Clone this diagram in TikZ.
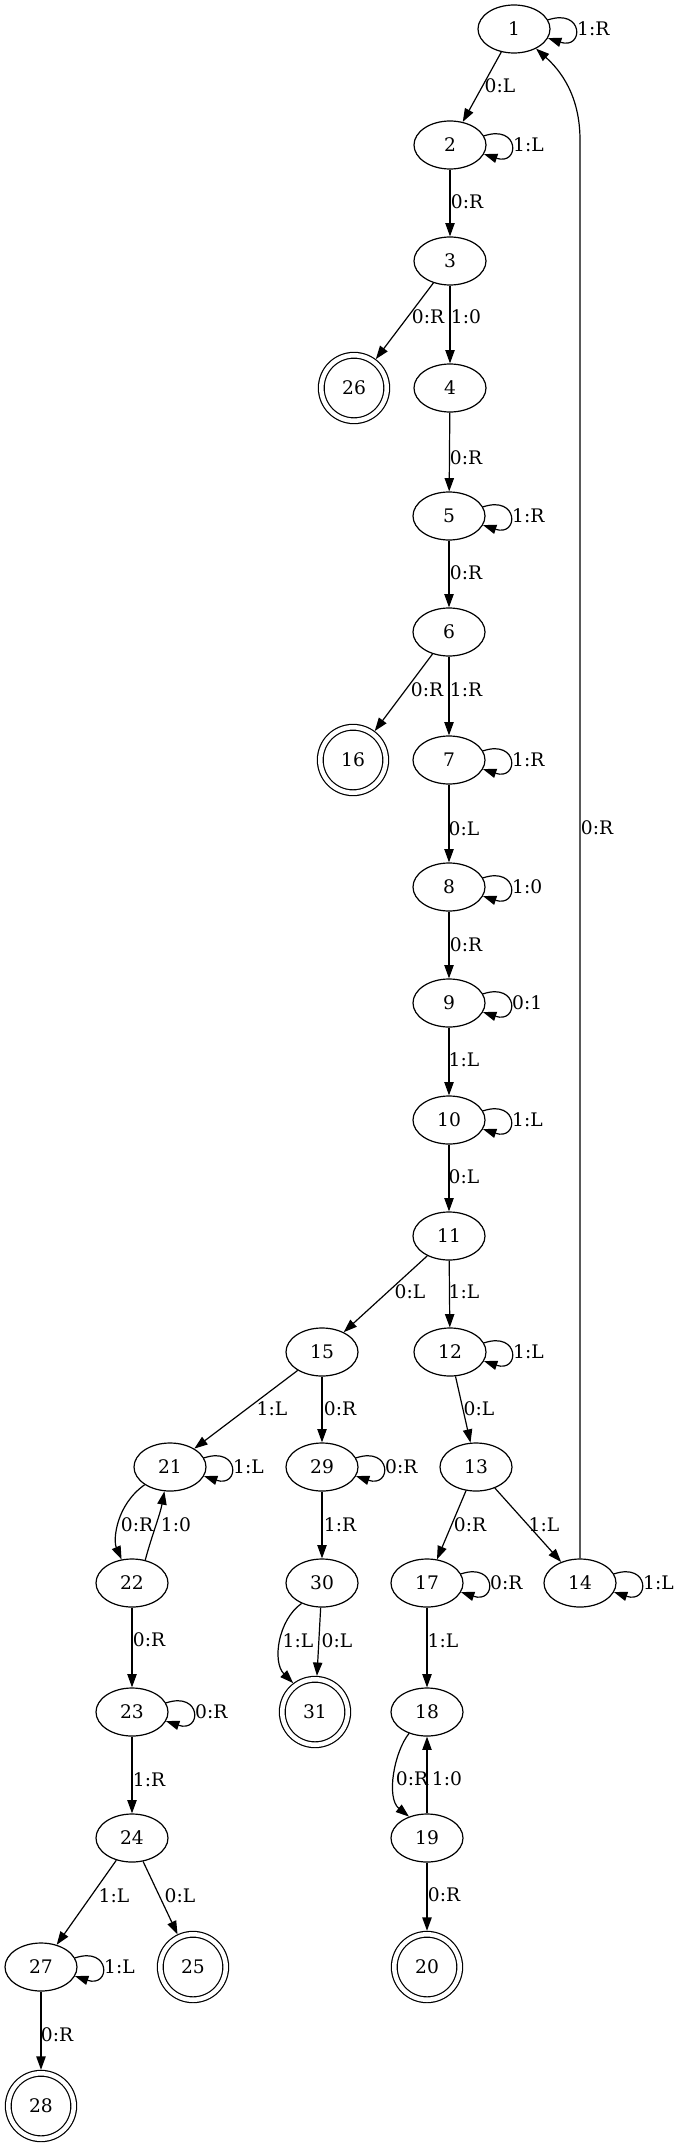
\documentclass[tikz,border=0pt]{standalone}
\usepackage{fontspec}
\setmainfont{DejaVu Serif}
\usetikzlibrary{arrows.meta,shapes.geometric}
\begin{document}
\begin{tikzpicture}[x=0.75pt, y=-0.75pt, font=\fontsize{14pt}{16pt}\selectfont,
  st/.style={ellipse, draw, line width=0.9pt, minimum width=54pt, minimum height=36pt, inner sep=0pt},
  acc/.style={circle, draw, line width=0.9pt, double, double distance=3.4pt, minimum size=49.1pt, inner sep=0pt, outer sep=2.6pt},
  conn/.style={draw, line width=0.9pt, -{Triangle[length=10pt,width=7pt]}},
  lab/.style={inner sep=0pt},
  loopl/.style={pos=0.5, anchor=west, inner sep=0pt, xshift=1.2pt}]
\useasboundingbox (0,0) rectangle (677,2147);

% states
\node[st] (n1) at (514,29) {1};
\node[st] (n2) at (450,145) {2};
\node[st] (n3) at (450,261) {3};
\node[acc] (n26) at (354,388) {26};
\node[st] (n4) at (450,388) {4};
\node[st] (n5) at (449,516) {5};
\node[st] (n6) at (449,632) {6};
\node[acc] (n16) at (353,760) {16};
\node[st] (n7) at (449,760) {7};
\node[st] (n8) at (449,887) {8};
\node[st] (n9) at (449,1003) {9};
\node[st] (n10) at (449,1120) {10};
\node[st] (n11) at (449,1236) {11};
\node[st] (n15) at (322,1352) {15};
\node[st] (n12) at (450,1352) {12};
\node[st] (n21) at (170,1467) {21};
\node[st] (n29) at (322,1467) {29};
\node[st] (n13) at (476,1467) {13};
\node[st] (n22) at (132,1583) {22};
\node[st] (n30) at (322,1583) {30};
\node[st] (n17) at (427,1583) {17};
\node[st] (n14) at (580,1583) {14};
\node[st] (n23) at (132,1712) {23};
\node[acc] (n31) at (315,1712) {31};
\node[st] (n18) at (427,1712) {18};
\node[st] (n24) at (132,1838) {24};
\node[st] (n19) at (427,1838) {19};
\node[st] (n27) at (41,1967) {27};
\node[acc] (n25) at (193,1967) {25};
\node[acc] (n20) at (427,1967) {20};
\node[acc] (n28) at (41,2106) {28};

% self loops
\draw[conn] (n1.15) .. controls +(36,-12) and +(36,12) .. (n1.-15) node[loopl] (ll1) {1:R};
\draw[conn] (n2.15) .. controls +(36,-12) and +(36,12) .. (n2.-15) node[loopl] (ll2) {1:L};
\draw[conn] (n5.15) .. controls +(36,-12) and +(36,12) .. (n5.-15) node[loopl] (ll5) {1:R};
\draw[conn] (n7.15) .. controls +(36,-12) and +(36,12) .. (n7.-15) node[loopl] (ll7) {1:R};
\draw[conn] (n8.15) .. controls +(36,-12) and +(36,12) .. (n8.-15) node[loopl] (ll8) {1:0};
\draw[conn] (n9.15) .. controls +(36,-12) and +(36,12) .. (n9.-15) node[loopl] (ll9) {0:1};
\draw[conn] (n10.15) .. controls +(36,-12) and +(36,12) .. (n10.-15) node[loopl] (ll10) {1:L};
\draw[conn] (n12.15) .. controls +(36,-12) and +(36,12) .. (n12.-15) node[loopl] (ll12) {1:L};
\draw[conn] (n21.15) .. controls +(36,-12) and +(36,12) .. (n21.-15) node[loopl] (ll21) {1:L};
\draw[conn] (n29.15) .. controls +(36,-12) and +(36,12) .. (n29.-15) node[loopl] (ll29) {0:R};
\draw[conn] (n17.15) .. controls +(36,-12) and +(36,12) .. (n17.-15) node[loopl] (ll17) {0:R};
\draw[conn] (n14.15) .. controls +(36,-12) and +(36,12) .. (n14.-15) node[loopl] (ll14) {1:L};
\draw[conn] (n23.15) .. controls +(36,-12) and +(36,12) .. (n23.-15) node[loopl] (ll23) {0:R};
\draw[conn] (n27.15) .. controls +(36,-12) and +(36,12) .. (n27.-15) node[loopl] (ll27) {1:L};

% transitions
\draw[conn] (n1) -- (n2) node[lab] (e1) at (500,86) {0:L};
\draw[conn] (n2) -- (n3) node[lab] (e2) at (467,202) {0:R};
\draw[conn] (n3) -- (n26) node[lab] (e3) at (428,317) {0:R};
\draw[conn] (n3) -- (n4) node[lab] (e4) at (466,317) {1:0};
\draw[conn] (n4) -- (n5) node[lab] (e5) at (466,458) {0:R};
\draw[conn] (n5) -- (n6) node[lab] (e6) at (466,573) {0:R};
\draw[conn] (n6) -- (n16) node[lab] (e7) at (427,690) {0:R};
\draw[conn] (n6) -- (n7) node[lab] (e8) at (466,690) {1:R};
\draw[conn] (n7) -- (n8) node[lab] (e9) at (464,829) {0:L};
\draw[conn] (n8) -- (n9) node[lab] (e10) at (466,945) {0:R};
\draw[conn] (n9) -- (n10) node[lab] (e11) at (464,1060) {1:L};
\draw[conn] (n10) -- (n11) node[lab] (e12) at (464,1177) {0:L};
\draw[conn] (n11) -- (n15) node[lab] (e13) at (410,1292) {0:L};
\draw[conn] (n11) -- (n12) node[lab] (e14) at (464,1292) {1:L};
\draw[conn] (n12) -- (n13) node[lab] (e15) at (479,1409) {0:L};
\draw[conn] (n15) -- (n21) node[lab] (e16) at (272,1409) {1:L};
\draw[conn] (n15) -- (n29) node[lab] (e17) at (340,1409) {0:R};
\draw[conn] (n13) -- (n17) node[lab] (e18) at (470,1525) {0:R};
\draw[conn] (n13) -- (n14) node[lab] (e19) at (544,1525) {1:L};
\draw[conn] (n21.-145) .. controls (116,1505) and (113,1540) .. (n22) node[lab] (e20) at (137,1525) {0:R};
\draw[conn] (n22.60) .. controls (152,1535) and (160,1515) .. (n21.-103) node[lab] (e21) at (176,1525) {1:0};
\draw[conn] (n29) -- (n30) node[lab] (e22) at (340,1525) {1:R};
\coordinate (b14) at (580,140);
\draw[conn] (n14.north) -- (b14) .. controls (580,95) and (560,70) .. (n1) node[lab] (e23) at (597,828) {0:R};
\draw[conn] (n22) -- (n23) node[lab] (e24) at (149,1640) {0:R};
\draw[conn] (n30.-135) .. controls (278,1620) and (272,1662) .. (n31.127) node[lab] (e25) at (298,1641) {1:L};
\draw[conn] (n30) -- (n31) node[lab] (e26) at (337,1641) {0:L};
\draw[conn] (n17) -- (n18) node[lab] (e27) at (443,1641) {1:L};
\draw[conn] (n23) -- (n24) node[lab] (e28) at (149,1780) {1:R};
\draw[conn] (n18.-130) .. controls (394,1752) and (386,1798) .. (n19.130) node[lab] (e29) at (412,1779) {0:R};
\draw[conn] (n19) -- (n18) node[lab] (e30) at (447,1779) {1:0};
\draw[conn] (n24) -- (n27) node[lab] (e31) at (114,1896) {1:L};
\draw[conn] (n24) -- (n25) node[lab] (e32) at (180,1896) {0:L};
\draw[conn] (n19) -- (n20) node[lab] (e33) at (444,1895) {0:R};
\draw[conn] (n27) -- (n28) node[lab] (e34) at (57,2035) {0:R};
\end{tikzpicture}
\end{document}
